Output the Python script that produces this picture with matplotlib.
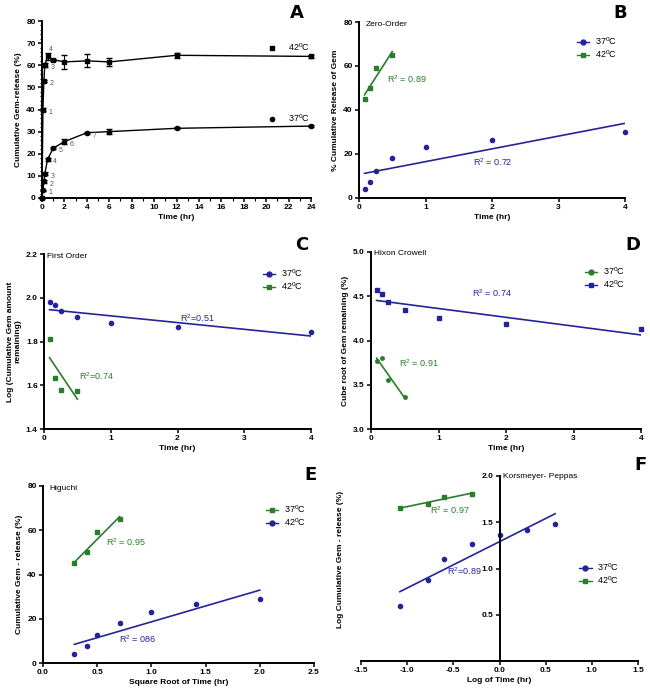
import matplotlib
matplotlib.use('Agg')
import matplotlib.pyplot as plt
from matplotlib.lines import Line2D
from matplotlib.ticker import MultipleLocator
import numpy as np

plt.rcParams['font.family'] = ['Liberation Sans', 'DejaVu Sans']
plt.rcParams['mathtext.fontset'] = 'custom'
plt.rcParams['mathtext.rm'] = 'Liberation Sans'
plt.rcParams['mathtext.it'] = 'Liberation Sans'
plt.rcParams['mathtext.bf'] = 'Liberation Sans:bold'

BLUE = '#24249a'
GREEN = '#2a7d2a'
L37 = '37$^0$C'
L42 = '42$^0$C'

# panel A: cumulative release vs time
t_a = [0, 0.083, 0.167, 0.25, 0.5, 1, 2, 4, 6, 12, 24]
rel37_a = [0, 3.5, 7.5, 11, 17.5, 22.5, 25.5, 29.5, 30, 31.5, 32.5]
err37_a = [0, 0.3, 0.5, 0.8, 0.8, 0.5, 1.0, 0.5, 1.0, 0.5, 0.5]
rel42_a = [0, 40, 53, 60, 64, 62.5, 61.5, 62, 61.5, 64.5, 64]
err42_a = [0, 0.5, 0.5, 1, 1.5, 0.5, 3, 3, 2, 1, 0.5]
num37_a = ['1', '2', '3', '4', '5', '6', '7']
num42_a = ['1', '2', '3', '4']

# kinetic model panels
t_h = [0.083, 0.167, 0.25, 0.5, 1, 2, 4]
t_h42 = [0.083, 0.167, 0.25, 0.5]
sqrt_t = [0.289, 0.408, 0.5, 0.707, 1.0, 1.414, 2.0]
sqrt_t42 = [0.289, 0.408, 0.5, 0.707]
log_t = [-1.079, -0.778, -0.602, -0.301, 0.0, 0.301, 0.602]
log_t42 = [-1.079, -0.778, -0.602, -0.301]

zero37 = [4, 7.5, 12.5, 18, 23, 26.5, 30]
zero42 = [45, 50, 59, 65]
first37 = [1.98, 1.965, 1.94, 1.91, 1.885, 1.865, 1.845]
first42 = [1.81, 1.635, 1.58, 1.575]
hix_blue = [4.57, 4.52, 4.43, 4.34, 4.25, 4.19, 4.13]
hix_green = [3.77, 3.80, 3.55, 3.36]
hig_blue = [4, 7.5, 12.5, 18, 23, 26.5, 29]
hig_green = [45, 50, 59, 65]
kp_blue = [0.6, 0.88, 1.1, 1.26, 1.36, 1.42, 1.48]
kp_green = [1.655, 1.70, 1.77, 1.81]

W, H = 650, 691
fig = plt.figure(figsize=(6.5, 6.91), dpi=100)


def box(l, r, t, b):
    return [l / W, 1 - b / H, (r - l) / W, (b - t) / H]


def style(ax):
    for s in ['top', 'right']:
        ax.spines[s].set_visible(False)
    for s in ['left', 'bottom']:
        ax.spines[s].set_linewidth(1.4)
    ax.tick_params(labelsize=6, width=1.1, length=3, pad=1.5)
    for lab in ax.get_xticklabels() + ax.get_yticklabels():
        lab.set_fontweight('bold')


def fitline(ax, x, y, color, marker, ms):
    x = np.array(x)
    y = np.array(y)
    ax.plot(x, y, marker, color=color, ms=ms, ls='none', clip_on=False)
    k, c = np.polyfit(x, y, 1)
    xs = np.array([x.min(), x.max()])
    ax.plot(xs, k * xs + c, color=color, lw=1.2)


def leg(ax, items, **kw):
    hs = [Line2D([], [], color=c, marker=m, ms=3.5, lw=1) for c, m in items]
    return ax.legend(hs, kw.pop('labels'), frameon=False, fontsize=6.5,
                     handlelength=1.4, handletextpad=0.6, labelspacing=0.15, **kw)


# ---- A ----
ax = fig.add_axes(box(42, 311, 21, 198))
ax.errorbar(t_a, rel42_a, yerr=err42_a, color='k', marker='s', ms=3.5, lw=1,
            capsize=2, elinewidth=0.8, clip_on=False)
ax.errorbar(t_a, rel37_a, yerr=err37_a, color='k', marker='o', ms=3, lw=1,
            capsize=2, elinewidth=0.8, clip_on=False)
for i, s in enumerate(num37_a):
    ax.annotate(s, (t_a[i + 1], rel37_a[i + 1]), xytext=(4, -3), textcoords='offset points',
                fontsize=5, color='#555555')
for i, s in enumerate(num42_a):
    off = (1, 4) if i == 3 else (4, -3)
    ax.annotate(s, (t_a[i + 1], rel42_a[i + 1]), xytext=off, textcoords='offset points',
                fontsize=5, color='#555555')
ax.set_xlim(0, 24)
ax.set_ylim(0, 80)
ax.xaxis.set_major_locator(MultipleLocator(2))
ax.xaxis.set_minor_locator(MultipleLocator(1))
ax.yaxis.set_major_locator(MultipleLocator(10))
ax.yaxis.set_minor_locator(MultipleLocator(2))
ax.tick_params(which='minor', length=1.8, width=0.8)
ax.set_xlabel('Time (hr)', fontsize=6, fontweight='bold', labelpad=2)
ax.set_ylabel('Cumulative Gem-release (%)', fontsize=6, fontweight='bold', labelpad=3)
style(ax)
la = ax.legend([Line2D([], [], color='k', marker='s', ms=3.5, ls='none')], [L42],
               loc='center', bbox_to_anchor=(0.91, 0.853), frameon=False, fontsize=6.5,
               handletextpad=0.8)
ax.add_artist(la)
ax.legend([Line2D([], [], color='k', marker='o', ms=3, ls='none')], [L37],
          loc='center', bbox_to_anchor=(0.91, 0.45), frameon=False, fontsize=6.5,
          handletextpad=0.8)

# ---- B ----
ax = fig.add_axes(box(359, 625, 22, 198))
fitline(ax, t_h, zero37, BLUE, 'o', 3)
fitline(ax, t_h42, zero42, GREEN, 's', 3.2)
ax.set_xlim(0, 4)
ax.set_ylim(0, 80)
ax.set_xticks([0, 1, 2, 3, 4])
ax.set_yticks([0, 20, 40, 60, 80])
ax.text(0.1, 79, 'Zero-Order', fontsize=6, va='center')
ax.text(0.42, 54, 'R$^2$ = 0.89', color=GREEN, fontsize=6.5, va='center')
ax.text(1.72, 16.5, 'R$^2$ = 0.72', color=BLUE, fontsize=6.5, va='center')
ax.set_xlabel('Time (hr)', fontsize=6, fontweight='bold', labelpad=2)
ax.set_ylabel('% Cumulative Release of Gem', fontsize=6, fontweight='bold', labelpad=3)
style(ax)
leg(ax, [(BLUE, 'o'), (GREEN, 's')], labels=[L37, L42], loc='upper right',
    bbox_to_anchor=(1.0, 0.97))

# ---- C ----
ax = fig.add_axes(box(44, 311, 254, 429))
fitline(ax, t_h, first37, BLUE, 'o', 3)
fitline(ax, t_h42, first42, GREEN, 's', 3.2)
ax.set_xlim(0, 4)
ax.set_ylim(1.4, 2.2)
ax.set_xticks([0, 1, 2, 3, 4])
ax.set_yticks([1.4, 1.6, 1.8, 2.0, 2.2])
ax.text(0.05, 2.19, 'First Order', fontsize=6, va='center')
ax.text(2.03, 1.905, 'R$^2$=0.51', color=BLUE, fontsize=6.5, va='center')
ax.text(0.52, 1.64, 'R$^2$=0.74', color=GREEN, fontsize=6.5, va='center')
ax.set_xlabel('Time (hr)', fontsize=6, fontweight='bold', labelpad=2)
ax.set_ylabel('Log (Cumulative Gem amount\nremaining)', fontsize=6, fontweight='bold',
              labelpad=3)
style(ax)
leg(ax, [(BLUE, 'o'), (GREEN, 's')], labels=[L37, L42], loc='upper right',
    bbox_to_anchor=(1.0, 0.97))

# ---- D ----
ax = fig.add_axes(box(371, 641, 252, 429))
fitline(ax, t_h, hix_blue, BLUE, 's', 3.2)
fitline(ax, t_h42, hix_green, GREEN, 'o', 2.5)
ax.set_xlim(0, 4)
ax.set_ylim(3.0, 5.0)
ax.set_xticks([0, 1, 2, 3, 4])
ax.set_yticks([3.0, 3.5, 4.0, 4.5, 5.0])
ax.text(0.05, 4.98, 'Hixon Crowell', fontsize=6, va='center')
ax.text(1.5, 4.54, 'R$^2$ = 0.74', color=BLUE, fontsize=6.5, va='center')
ax.text(0.41, 3.74, 'R$^2$ = 0.91', color=GREEN, fontsize=6.5, va='center')
ax.set_xlabel('Time (hr)', fontsize=6, fontweight='bold', labelpad=2)
ax.set_ylabel('Cube root of Gem remaining (%)', fontsize=6, fontweight='bold', labelpad=3)
style(ax)
leg(ax, [(GREEN, 'o'), (BLUE, 's')], labels=[L37, L42], loc='upper right',
    bbox_to_anchor=(0.97, 0.97))

# ---- E ----
ax = fig.add_axes(box(43, 314, 486, 663))
fitline(ax, sqrt_t42, hig_green, GREEN, 's', 3.2)
fitline(ax, sqrt_t, hig_blue, BLUE, 'o', 3)
ax.set_xlim(0, 2.5)
ax.set_ylim(0, 80)
ax.set_xticks([0, 0.5, 1.0, 1.5, 2.0, 2.5])
ax.set_xticklabels(['0.0', '0.5', '1.0', '1.5', '2.0', '2.5'])
ax.set_yticks([0, 20, 40, 60, 80])
ax.text(0.06, 79, 'Higuchi', fontsize=6, va='center')
ax.text(0.58, 54.5, 'R$^2$ = 0.95', color=GREEN, fontsize=6.5, va='center')
ax.text(0.7, 11, 'R$^2$ = 086', color=BLUE, fontsize=6.5, va='center')
ax.set_xlabel('Square Root of Time (hr)', fontsize=6, fontweight='bold', labelpad=2)
ax.set_ylabel('Cumulative Gem - release (%)', fontsize=6, fontweight='bold', labelpad=3)
style(ax)
leg(ax, [(GREEN, 's'), (BLUE, 'o')], labels=[L37, L42], loc='upper right',
    bbox_to_anchor=(1.0, 0.95))

# ---- F ----
ax = fig.add_axes(box(361, 638, 476, 661))
fitline(ax, log_t, kp_blue, BLUE, 'o', 3)
fitline(ax, log_t42, kp_green, GREEN, 's', 3.2)
ax.set_xlim(-1.5, 1.5)
ax.set_ylim(0, 2.0)
ax.spines['left'].set_position(('data', 0))
ax.set_xticks([-1.5, -1.0, -0.5, 0.0, 0.5, 1.0, 1.5])
ax.set_xticklabels(['-1.5', '-1.0', '-0.5', '0.0', '0.5', '1.0', '1.5'])
ax.set_yticks([0.5, 1.0, 1.5, 2.0])
ax.text(0.04, 1.99, 'Korsmeyer- Peppas', fontsize=6, va='center')
ax.text(-0.75, 1.63, 'R$^2$ = 0.97', color=GREEN, fontsize=6.5, va='center')
ax.text(-0.57, 0.97, 'R$^2$=0.89', color=BLUE, fontsize=6.5, va='center')
ax.set_xlabel('Log of Time (hr)', fontsize=6, fontweight='bold', labelpad=2)
ax.set_ylabel('Log Cumulative Gem - release (%)', fontsize=6, fontweight='bold')
ax.yaxis.set_label_coords(-0.06, 0.55)
style(ax)
leg(ax, [(BLUE, 'o'), (GREEN, 's')], labels=[L37, L42], loc='center',
    bbox_to_anchor=(0.86, 0.47))

# panel letters
for s, x, y in [('A', 297, 13), ('B', 620, 13), ('C', 302, 245), ('D', 633, 245),
                ('E', 311, 475), ('F', 640, 465)]:
    fig.text(x / W, 1 - y / H, s, fontsize=13, fontweight='bold', ha='center', va='center',
             family='DejaVu Sans')

fig.savefig('out.png', dpi=100)
